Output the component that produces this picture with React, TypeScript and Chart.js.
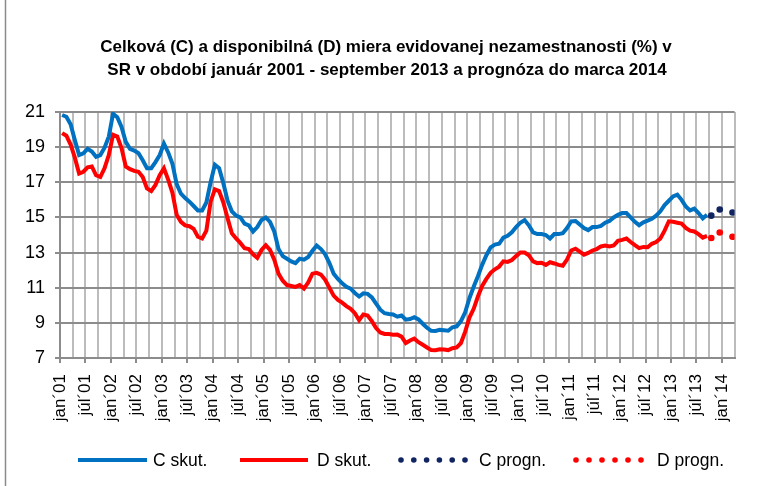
import React, { useEffect, useRef } from 'react';
import { Chart, registerables } from 'chart.js';

Chart.register(...registerables);

const TITLE_LINES = [
  'Celková (C) a disponibilná (D) miera evidovanej nezamestnanosti (%) v',
  'SR v období január 2001 - september 2013 a prognóza do marca 2014',
];

// tick labels every 6 months (jan 2001 ... jan 2014)
const X_TICK_LABELS = [
  'jan´01', 'júl´01', 'jan´02', 'júl´02', 'jan´03', 'júl´03', 'jan´04', 'júl´04',
  'jan´05', 'júl´05', 'jan´06', 'júl´06', 'jan´07', 'júl´07', 'jan´08', 'júl´08',
  'jan´09', 'júl´09', 'jan´10', 'júl´10', 'jan´11', 'júl´11', 'jan´12', 'júl´12',
  'jan´13', 'júl´13', 'jan´14',
];

// monthly values, January 2001 ... September 2013
const C_ACTUAL = [
  20.83, 20.73, 20.3, 19.4, 18.55, 18.65, 18.9, 18.75, 18.45, 18.55, 18.97, 19.6,
  20.9, 20.7, 20.15, 19.3, 18.9, 18.8, 18.65, 18.25, 17.8, 17.8, 18.15, 18.55,
  19.2, 18.7, 18.05, 16.9, 16.35, 16.1, 15.9, 15.65, 15.4, 15.4, 15.85, 17.0,
  18.0, 17.8, 16.95, 15.95, 15.35, 15.1, 15.0, 14.65, 14.55, 14.2, 14.45, 14.85,
  15.0, 14.75, 14.2, 13.2, 12.8, 12.65, 12.5, 12.4, 12.65, 12.6, 12.75, 13.1,
  13.4, 13.2, 12.9, 12.4, 11.8, 11.5, 11.25, 11.05, 10.95, 10.7, 10.5, 10.68,
  10.65, 10.45, 10.1, 9.75, 9.55, 9.5, 9.48, 9.35, 9.42, 9.18, 9.22, 9.32,
  9.2, 8.95, 8.72, 8.55, 8.54, 8.6, 8.58, 8.55, 8.75, 8.8, 9.1, 9.6,
  10.4, 11.05, 11.65, 12.3, 12.85, 13.3, 13.45, 13.5, 13.85, 13.95, 14.15, 14.45,
  14.7, 14.85, 14.55, 14.15, 14.05, 14.05, 14.0, 13.8, 14.05, 14.05, 14.1, 14.4,
  14.78, 14.8, 14.6, 14.4, 14.28, 14.45, 14.45, 14.52, 14.7, 14.8, 15.0, 15.15,
  15.25, 15.25, 15.0, 14.75, 14.56, 14.72, 14.82, 14.92, 15.1, 15.35, 15.7, 15.95,
  16.2, 16.3, 16.0, 15.62, 15.4, 15.5, 15.25, 14.95, 15.15,
];

const D_ACTUAL = [
  19.8, 19.65, 19.15, 18.4, 17.5, 17.6, 17.85, 17.9, 17.4, 17.3, 17.8, 18.55,
  19.7, 19.6, 18.95, 17.9, 17.75, 17.65, 17.6, 17.3, 16.65, 16.5, 16.85, 17.4,
  17.8, 17.15, 16.4, 15.15, 14.75, 14.55, 14.5, 14.35, 13.9, 13.8, 14.25, 15.9,
  16.6, 16.5, 15.85, 14.95, 14.1, 13.8, 13.55, 13.25, 13.2, 12.9, 12.7, 13.15,
  13.42, 13.15, 12.6, 11.8, 11.4, 11.15, 11.1, 11.05, 11.15, 10.95, 11.3, 11.8,
  11.85, 11.75, 11.45, 11.0, 10.55, 10.3, 10.15, 9.95, 9.8, 9.55, 9.15, 9.48,
  9.42, 9.1, 8.7, 8.45, 8.37, 8.36, 8.32, 8.33, 8.22, 7.85, 8.0, 8.1,
  7.9, 7.75, 7.6, 7.45, 7.44, 7.5, 7.48, 7.45, 7.56, 7.6, 7.85, 8.5,
  9.3, 9.8, 10.5, 11.1, 11.5, 11.85, 12.05, 12.2, 12.5, 12.47, 12.58, 12.8,
  13.0, 13.0, 12.85, 12.5, 12.4, 12.42, 12.3, 12.45, 12.38, 12.3, 12.25, 12.6,
  13.12, 13.22, 13.05, 12.88, 12.98, 13.12, 13.2, 13.35, 13.4, 13.35, 13.4, 13.67,
  13.72, 13.8, 13.6, 13.42, 13.25, 13.32, 13.3, 13.5, 13.6, 13.8, 14.25, 14.78,
  14.75, 14.7, 14.65, 14.4, 14.25, 14.2, 14.05, 13.85, 13.95,
];

// forecast points: month index from January 2001 (Oct 2013, Dec 2013, Mar 2014)
const FORECAST_MONTHS = [153, 155, 158];
const C_FORECAST = [15.1, 15.45, 15.28];
const D_FORECAST = [13.83, 14.14, 13.9];

const SERIES_NAMES = ['C skut.', 'D skut.', 'C progn.', 'D progn.'];

const MONTH_COUNT = 159; // Jan 2001 .. Mar 2014
const Y_MIN = 7;
const Y_MAX = 21;
const Y_STEP = 2;

const BLUE = '#0070C0';
const RED = '#FF0000';
const NAVY = '#0F2460';
const FONT = '"Liberation Sans", Arial, sans-serif';

const toPoints = (xs: number[], ys: number[]) => ys.map((y, i) => ({ x: xs[i], y }));

const decorPlugin = {
  id: 'decor',
  beforeDraw(chart: any) {
    const ctx = chart.ctx;
    ctx.save();
    ctx.fillStyle = '#ffffff';
    ctx.fillRect(0, 0, chart.width, chart.height);
    ctx.strokeStyle = '#8a8a8a';
    ctx.lineWidth = 1.5;
    ctx.beginPath();
    ctx.moveTo(5.5, 0);
    ctx.lineTo(5.5, chart.height);
    ctx.stroke();
    ctx.restore();
  },
  afterDraw(chart: any) {
    const ctx = chart.ctx;
    ctx.save();
    // title
    ctx.fillStyle = '#000';
    ctx.font = `bold 17px ${FONT}`;
    ctx.textAlign = 'center';
    ctx.textBaseline = 'middle';
    ctx.fillText(TITLE_LINES[0], 386, 47);
    ctx.fillText(TITLE_LINES[1], 387, 70);

    // legend
    const ly = 460;
    const items = [
      { x0: 78, x1: 147, tx: 153, color: BLUE, dotted: false },
      { x0: 240, x1: 308, tx: 317, color: RED, dotted: false },
      { x0: 401, x1: 465, tx: 479, color: NAVY, dotted: true },
      { x0: 576, x1: 641, tx: 657, color: RED, dotted: true },
    ];
    ctx.font = `17.5px ${FONT}`;
    ctx.textAlign = 'left';
    items.forEach((it, i) => {
      if (it.dotted) {
        ctx.fillStyle = it.color;
        const n = 6;
        for (let k = 0; k < n; k++) {
          const x = it.x0 + ((it.x1 - it.x0) * k) / (n - 1);
          ctx.beginPath();
          ctx.arc(x, ly, 2.8, 0, Math.PI * 2);
          ctx.fill();
        }
      } else {
        ctx.strokeStyle = it.color;
        ctx.lineWidth = 4;
        ctx.lineCap = 'butt';
        ctx.beginPath();
        ctx.moveTo(it.x0, ly);
        ctx.lineTo(it.x1, ly);
        ctx.stroke();
      }
      ctx.fillStyle = '#000';
      ctx.fillText(SERIES_NAMES[i], it.tx, ly + 1);
    });
    ctx.restore();
  },
};

export default function App() {
  const ref = useRef<HTMLCanvasElement | null>(null);

  useEffect(() => {
    if (!ref.current) return;
    const monthIdx = C_ACTUAL.map((_, i) => i);
    const chart = new Chart(ref.current, {
      type: 'line',
      data: {
        datasets: [
          {
            label: SERIES_NAMES[0],
            data: toPoints(monthIdx, C_ACTUAL),
            borderColor: BLUE,
            backgroundColor: BLUE,
            borderWidth: 4,
            pointRadius: 0,
            tension: 0,
          },
          {
            label: SERIES_NAMES[1],
            data: toPoints(monthIdx, D_ACTUAL),
            borderColor: RED,
            backgroundColor: RED,
            borderWidth: 4,
            pointRadius: 0,
            tension: 0,
          },
          {
            label: SERIES_NAMES[2],
            data: toPoints(FORECAST_MONTHS, C_FORECAST),
            showLine: false,
            pointRadius: 3.3,
            pointBorderWidth: 0,
            pointBackgroundColor: NAVY,
            borderColor: NAVY,
          },
          {
            label: SERIES_NAMES[3],
            data: toPoints(FORECAST_MONTHS, D_FORECAST),
            showLine: false,
            pointRadius: 3.3,
            pointBorderWidth: 0,
            pointBackgroundColor: RED,
            borderColor: RED,
          },
        ],
      },
      options: {
        responsive: false,
        animation: false,
        devicePixelRatio: 1,
        layout: { padding: { top: 112, right: 19, left: 0, bottom: 0 } },
        plugins: {
          legend: { display: false },
          title: { display: false },
          tooltip: { enabled: false },
        },
        scales: {
          x: {
            type: 'linear',
            min: -0.5,
            max: MONTH_COUNT - 0.5,
            afterBuildTicks: (scale: any) => {
              const ticks = [];
              for (let v = -0.5; v <= MONTH_COUNT - 0.5 + 1e-9; v += 3) ticks.push({ value: v });
              scale.ticks = ticks;
            },
            afterFit: (scale: any) => {
              scale.height = 128;
            },
            ticks: {
              autoSkip: false,
              minRotation: 90,
              maxRotation: 90,
              padding: 11,
              color: '#000',
              font: { family: FONT, size: 17 },
              callback: (_v: any, i: number) => (i % 2 === 0 ? X_TICK_LABELS[i / 2] ?? '' : ''),
            },
            grid: {
              color: '#bcbcbc',
              lineWidth: 2,
              tickLength: 5,
              tickColor: (c: any) => (c.index % 2 === 0 ? '#8c8c8c' : 'rgba(0,0,0,0)'),
              tickWidth: 2,
            },
            border: { color: '#8c8c8c', width: 2 },
          },
          y: {
            min: Y_MIN,
            max: Y_MAX,
            afterFit: (scale: any) => {
              scale.width = 60;
            },
            ticks: {
              stepSize: Y_STEP,
              padding: 10,
              color: '#000',
              font: { family: FONT, size: 18 },
            },
            grid: {
              color: '#8c8c8c',
              lineWidth: 2,
              tickLength: 5,
            },
            border: { color: '#8c8c8c', width: 2 },
          },
        },
      },
      plugins: [decorPlugin],
    });
    return () => chart.destroy();
  }, []);

  return (
    <div style={{ position: 'fixed', left: 0, top: 0, width: 766, height: 486, background: '#fff' }}>
      <canvas ref={ref} width={766} height={486} style={{ display: 'block' }} />
    </div>
  );
}
